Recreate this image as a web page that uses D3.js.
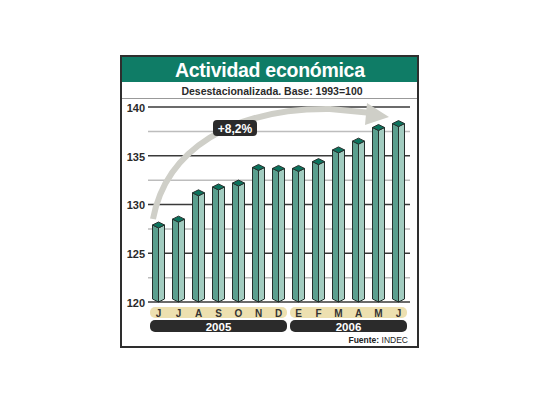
<!DOCTYPE html>
<html>
<head>
<meta charset="utf-8">
<script src="https://cdn.jsdelivr.net/npm/d3@7"></script>
<style>
  body { margin: 0; background: #fff; }
  svg { display: block; font-family: "Liberation Sans", Arial, sans-serif; }
</style>
</head>
<body>
<svg id="chart" width="540" height="405"></svg>
<script>
// Actividad económica - EMAE desestacionalizado
const months = ['J', 'J', 'A', 'S', 'O', 'N', 'D', 'E', 'F', 'M', 'A', 'M', 'J'];
const values = [127.9, 128.5, 131.2, 131.8, 132.2, 133.8, 133.7, 133.7, 134.4, 135.6, 136.5, 137.9, 138.3];
const years = [
  { label: '2005', from: 0, to: 6 },
  { label: '2006', from: 7, to: 12 }
];
const majorTicks = [120, 125, 130, 135, 140];
const minorTicks = [122.5, 127.5, 132.5, 137.5];
const growthLabel = '+8,2%';

const svg = d3.select('#chart');

// frame
svg.append('rect')
  .attr('x', 121).attr('y', 56)
  .attr('width', 297).attr('height', 291)
  .attr('fill', '#fff')
  .attr('stroke', '#2e2e2e')
  .attr('stroke-width', 2);

svg.append('rect')
  .attr('x', 122).attr('y', 57)
  .attr('width', 295).attr('height', 25)
  .attr('fill', '#0f7c66');

svg.append('text')
  .attr('x', 270).attr('y', 77)
  .attr('text-anchor', 'middle')
  .attr('fill', '#fff')
  .attr('font-size', 19.5)
  .attr('font-weight', 'bold')
  .attr('textLength', 190)
  .text('Actividad económica');

svg.append('text')
  .attr('x', 272).attr('y', 95)
  .attr('text-anchor', 'middle')
  .attr('fill', '#2a2a2a')
  .attr('font-size', 10.5)
  .attr('font-weight', 'bold')
  .text('Desestacionalizada. Base: 1993=100');

svg.append('line')
  .attr('x1', 122).attr('x2', 417)
  .attr('y1', 98.5).attr('y2', 98.5)
  .attr('stroke', '#999').attr('stroke-width', 1);

// scales
const x = d3.scaleBand()
  .domain(d3.range(months.length))
  .range([148.5, 408.5])
  .paddingInner(0.4)
  .paddingOuter(0.2);

const y = d3.scaleLinear()
  .domain([120, 140])
  .range([302, 107]);

// grid
const grid = svg.append('g');
grid.selectAll('.minor')
  .data(minorTicks)
  .enter().append('line')
  .attr('x1', 148).attr('x2', 410)
  .attr('y1', d => y(d)).attr('y2', d => y(d))
  .attr('stroke', '#bdbdbd').attr('stroke-width', 1.5);

grid.selectAll('.major')
  .data(majorTicks)
  .enter().append('line')
  .attr('x1', 148).attr('x2', 410)
  .attr('y1', d => y(d)).attr('y2', d => y(d))
  .attr('stroke', '#3a3a3a').attr('stroke-width', 1.5);

// y axis labels
const yAxis = d3.axisLeft(y).tickValues(majorTicks).tickSize(0).tickPadding(0);
const yg = svg.append('g')
  .attr('transform', 'translate(145,0)')
  .call(yAxis);
yg.select('.domain').remove();
yg.selectAll('text')
  .attr('font-family', '"Liberation Sans", Arial, sans-serif')
  .attr('font-size', 11)
  .attr('font-weight', 'bold')
  .attr('fill', '#2a2a2a')
  .attr('dy', '0.4em');

// growth arrow
svg.append('path')
  .attr('d', 'M153,219 C166,150 232,108 330,109 L372,113')
  .attr('fill', 'none')
  .attr('stroke', '#cfcfc8')
  .attr('stroke-width', 6);
svg.append('path')
  .attr('d', 'M367,103 L389,117 L365,125 Z')
  .attr('fill', '#cfcfc8');

// bars
const bw = x.bandwidth();
const cap = 3;
const bars = svg.append('g').selectAll('.bar')
  .data(values)
  .enter().append('g')
  .attr('class', 'bar')
  .attr('transform', (d, i) => `translate(${x(i) + bw / 2},0)`);

bars.append('path')
  .attr('d', d => `M${-bw / 2},${y(d)} L0,${y(d) + cap} L0,${y(120)} L${-bw / 2},${y(120) - cap} Z`)
  .attr('fill', '#5a9f8e')
  .attr('stroke', '#25302d').attr('stroke-width', 1);

bars.append('path')
  .attr('d', d => `M${bw / 2},${y(d)} L0,${y(d) + cap} L0,${y(120)} L${bw / 2},${y(120) - cap} Z`)
  .attr('fill', '#a2ccc0')
  .attr('stroke', '#25302d').attr('stroke-width', 1);

bars.append('path')
  .attr('d', d => `M${-bw / 2},${y(d)} L0,${y(d) - cap} L${bw / 2},${y(d)} L0,${y(d) + cap} Z`)
  .attr('fill', '#0b735d')
  .attr('stroke', '#25302d').attr('stroke-width', 1);

// growth label
svg.append('rect')
  .attr('x', 213).attr('y', 120)
  .attr('width', 44).attr('height', 16)
  .attr('rx', 4)
  .attr('fill', '#2b2b2b');
svg.append('text')
  .attr('x', 235).attr('y', 132.5)
  .attr('text-anchor', 'middle')
  .attr('fill', '#fff')
  .attr('font-size', 12)
  .attr('font-weight', 'bold')
  .text(growthLabel);

// month band and year bands
const groups = svg.append('g').selectAll('.yr')
  .data(years)
  .enter().append('g');

groups.append('rect')
  .attr('x', d => x(d.from) - 2.5)
  .attr('width', d => x(d.to) + bw - x(d.from) + 5)
  .attr('y', 307).attr('height', 11)
  .attr('rx', 5)
  .attr('fill', '#ede0b0');

groups.append('rect')
  .attr('x', d => x(d.from) - 2.5)
  .attr('width', d => x(d.to) + bw - x(d.from) + 5)
  .attr('y', 320).attr('height', 12)
  .attr('rx', 5)
  .attr('fill', '#2b2b2b');

groups.append('text')
  .attr('x', d => (x(d.from) + x(d.to) + bw) / 2)
  .attr('y', 330.5)
  .attr('text-anchor', 'middle')
  .attr('fill', '#fff')
  .attr('font-size', 11.5)
  .attr('font-weight', 'bold')
  .text(d => d.label);

svg.append('g').selectAll('.month')
  .data(months)
  .enter().append('text')
  .attr('x', (d, i) => x(i) + bw / 2)
  .attr('y', 316.5)
  .attr('text-anchor', 'middle')
  .attr('fill', '#333')
  .attr('font-size', 10)
  .attr('font-weight', 'bold')
  .text(d => d);

// source
const src = svg.append('text')
  .attr('x', 408).attr('y', 343)
  .attr('text-anchor', 'end')
  .attr('fill', '#222')
  .attr('font-size', 8.5);
src.append('tspan').attr('font-weight', 'bold').text('Fuente: ');
src.append('tspan').text('INDEC');
</script>
</body>
</html>
